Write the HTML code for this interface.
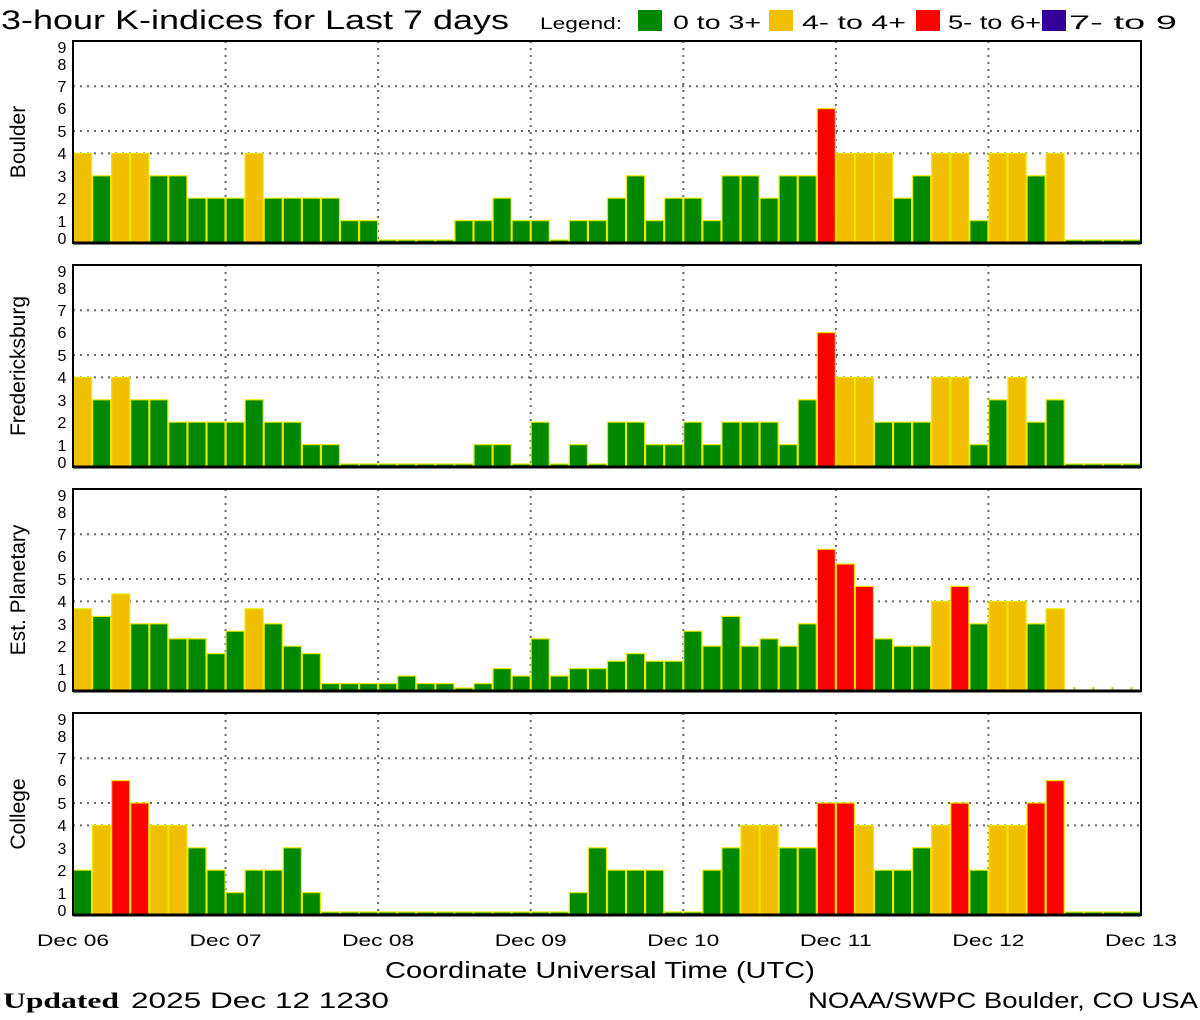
<!DOCTYPE html>
<html><head><meta charset="utf-8"><style>
html,body{margin:0;padding:0;background:#fff;width:1200px;height:1020px;overflow:hidden}
svg text{font-family:"Liberation Sans",sans-serif;fill:#000}
</style></head><body>
<svg id="s" width="1200" height="1020" xmlns="http://www.w3.org/2000/svg">
<text x="1" y="29" font-size="27" textLength="508" lengthAdjust="spacingAndGlyphs">3-hour K-indices for Last 7 days</text>
<text x="540" y="29" font-size="17" textLength="82" lengthAdjust="spacingAndGlyphs">Legend:</text>
<rect x="638" y="10" width="24" height="21" fill="#008800"/>
<text x="673" y="29" font-size="19" textLength="88" lengthAdjust="spacingAndGlyphs">0 to 3+</text>
<rect x="769" y="10" width="24" height="21" fill="#f0c000"/>
<text x="802" y="29" font-size="19" textLength="104" lengthAdjust="spacingAndGlyphs">4- to 4+</text>
<rect x="916" y="10" width="24" height="21" fill="#ff0000"/>
<text x="948" y="29" font-size="19" textLength="93" lengthAdjust="spacingAndGlyphs">5- to 6+</text>
<rect x="1042" y="10" width="24" height="21" fill="#330099"/>
<text x="1069" y="29" font-size="19" textLength="108" lengthAdjust="spacingAndGlyphs">7- to 9</text>
<text x="600" y="978" font-size="23" text-anchor="middle" textLength="430" lengthAdjust="spacingAndGlyphs">Coordinate Universal Time (UTC)</text>
<text x="3" y="1008" font-size="22" font-weight="bold" style="font-family:'Liberation Serif',serif" textLength="116" lengthAdjust="spacingAndGlyphs">Updated</text>
<text x="131" y="1008" font-size="22" textLength="258" lengthAdjust="spacingAndGlyphs">2025 Dec 12 1230</text>
<text x="1198" y="1008" font-size="22" text-anchor="end" textLength="390" lengthAdjust="spacingAndGlyphs">NOAA/SWPC Boulder, CO USA</text>
</svg>
<script>
var s=document.getElementById('s'),NS='http://www.w3.org/2000/svg';
function el(t,a,txt){var e=document.createElementNS(NS,t);for(var k in a)e.setAttribute(k,a[k]);if(txt!=null)e.textContent=txt;s.appendChild(e);return e;}
var X0=73,X1=1141,W=(X1-X0)/56,U=22.4;
var data=[
["Boulder",243,[4,3,4,4,3,3,2,2, 2,4,2,2,2,2,1,1, 0,0,0,0,1,1,2,1, 1,0,1,1,2,3,1,2, 2,1,3,3,2,3,3,6, 4,4,4,2,3,4,4,1, 4,4,3,4,0,0,0,0]],
["Fredericksburg",467,[4,3,4,3,3,2,2,2, 2,3,2,2,1,1,0,0, 0,0,0,0,0,1,1,0, 2,0,1,0,2,2,1,1, 2,1,2,2,2,1,3,6, 4,4,2,2,2,4,4,1, 3,4,2,3,0,0,0,0]],
["Est. Planetary",691,[3.67,3.33,4.33,3,3,2.33,2.33,1.67, 2.67,3.67,3,2,1.67,0.33,0.33,0.33, 0.33,0.67,0.33,0.33,0.1,0.33,1,0.67, 2.33,0.67,1,1,1.33,1.67,1.33,1.33, 2.67,2,3.33,2,2.33,2,3,6.33, 5.67,4.67,2.33,2,2,4,4.67,3, 4,4,3,3.67,null,null,null,null]],
["College",915,[2,4,6,5,4,4,3,2, 1,2,2,3,1,0,0,0, 0,0,0,0,0,0,0,0, 0,0,1,3,2,2,2,0, 0,2,3,4,4,3,3,5, 5,4,2,2,3,4,5,2, 4,4,5,6,0,0,0,0]]];
var ly={0:-5,1:-22,2:-45,3:-67,4:-90,5:-112,6:-135,7:-157,8:-179,9:-196};
data.forEach(function(p){
 var z=p[1],top=z-202;
 el('rect',{x:X0,y:top,width:X1-X0,height:202,fill:'#fff'});
 [4,5,7].forEach(function(l){el('line',{x1:X0,x2:X1,y1:z-l*U,y2:z-l*U,stroke:'#666','stroke-width':2,'stroke-dasharray':'2,5'});});
 for(var d=1;d<7;d++){var x=X0+d*W*8;el('line',{x1:x,x2:x,y1:top,y2:z,stroke:'#666','stroke-width':2,'stroke-dasharray':'2,5'});}
 p[2].forEach(function(v,i){
  var x=X0+i*W;
  if(v===null){el('rect',{x:x+W/2-1,y:z-4,width:2,height:3,fill:'#cccc00'});return;}
  var h=Math.max(v*U,3);
  var c=v<3.6?'#008800':(v<4.6?'#f0c000':(v<6.6?'#ff0000':'#330099'));
  el('rect',{x:x+0.5,y:z-h,width:W-1,height:h,fill:c,stroke:'#e8e800','stroke-width':1.2});
 });
 el('rect',{x:X0,y:top,width:X1-X0,height:202,fill:'none',stroke:'#000','stroke-width':2});
 el('line',{x1:X0,x2:X1,y1:z,y2:z,stroke:'#000','stroke-width':3});
 for(var k=0;k<=9;k++)el('text',{x:62,y:z+ly[k]+6,'font-size':16,'text-anchor':'middle'},k);
 var cy=top+101;
 el('text',{x:0,y:0,'font-size':21,'text-anchor':'middle',transform:'translate(25,'+cy+') rotate(-90)'},p[0]);
});
for(var d=0;d<=7;d++){el('text',{x:X0+d*W*8,y:946,'font-size':17,'text-anchor':'middle',textLength:72,lengthAdjust:'spacingAndGlyphs'},'Dec '+('0'+(6+d)).slice(-2));}
</script>
</body></html>
